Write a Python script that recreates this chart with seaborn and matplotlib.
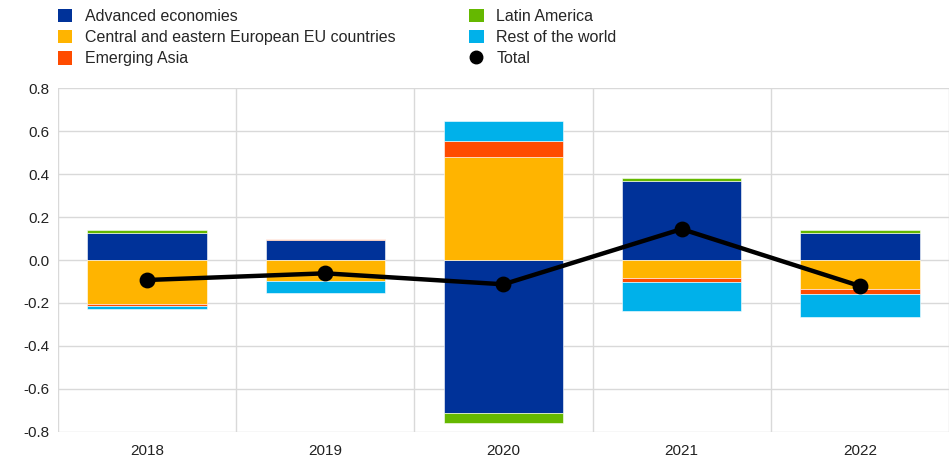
import numpy as np
import matplotlib.pyplot as plt
from matplotlib.patches import Patch
from matplotlib.lines import Line2D
import seaborn as sns

years = ['2018', '2019', '2020', '2021', '2022']
advanced = [0.125, 0.093, -0.713, 0.366, 0.127]
cee = [-0.206, -0.098, 0.479, -0.082, -0.136]
asia = [-0.007, 0.003, 0.076, -0.020, -0.022]
latam = [0.015, 0.0, -0.047, 0.014, 0.013]
rest = [-0.016, -0.057, 0.092, -0.135, -0.106]
total = [-0.093, -0.062, -0.113, 0.144, -0.121]

names = ['Advanced economies', 'Central and eastern European EU countries',
         'Emerging Asia', 'Latin America', 'Rest of the world']
colors = ['#003299', '#FFB400', '#FF4B00', '#65B800', '#00B1EA']
series = [advanced, cee, asia, latam, rest]
yticks = [-0.8, -0.6, -0.4, -0.2, 0.0, 0.2, 0.4, 0.6, 0.8]

sns.set_style('white')
plt.rcParams['font.family'] = ['Liberation Sans', 'DejaVu Sans']

fig = plt.figure(figsize=(9.49, 4.61), dpi=100)
ax = fig.add_axes([0.061, 0.063, 0.939, 0.746])

# stack positives upward and negatives downward
pos = np.zeros(len(years))
neg = np.zeros(len(years))
for vals, c in zip(series, colors):
    v = np.array(vals)
    bottom = np.where(v >= 0, pos, neg)
    sns.barplot(x=years, y=v, bottom=bottom, color=c, saturation=1, width=0.67,
                edgecolor='white', linewidth=0.4, errorbar=None, ax=ax, zorder=2)
    pos = pos + np.where(v >= 0, v, 0)
    neg = neg + np.where(v < 0, v, 0)

sns.pointplot(x=years, y=total, color='black', markers='o', linewidth=3.2,
              markersize=9, errorbar=None, ax=ax, zorder=5)

ax.set_ylim(-0.8, 0.8)
ax.set_xlim(-0.5, 4.5)
ax.set_yticks(yticks)
ax.set_yticklabels([f'{t:.1f}' for t in yticks])
ax.set_xlabel('')
ax.set_ylabel('')
for yv in yticks:
    ax.axhline(yv, color='#d9d9d9', lw=1, zorder=0)
for xv in np.arange(-0.5, 4.6, 1):
    ax.axvline(xv, color='#d9d9d9', lw=1, zorder=0)
for s in ax.spines.values():
    s.set_visible(False)
ax.tick_params(axis='both', length=0, labelsize=11, colors='#222222', pad=6)
ax.tick_params(axis='x', pad=9)

handles = [Patch(facecolor=c, edgecolor='none') for c in colors]
handles.append(Line2D([], [], color='black', marker='o', linestyle='none', markersize=9))
labels = names + ['Total']
fig.legend(handles, labels, loc='upper left', bbox_to_anchor=(0.046, 1.012), ncol=2,
           frameon=False, fontsize=11.5, handlelength=0.9, handleheight=0.9,
           handletextpad=0.8, columnspacing=4.6, labelspacing=0.38)

fig.savefig('out.png', dpi=100)
